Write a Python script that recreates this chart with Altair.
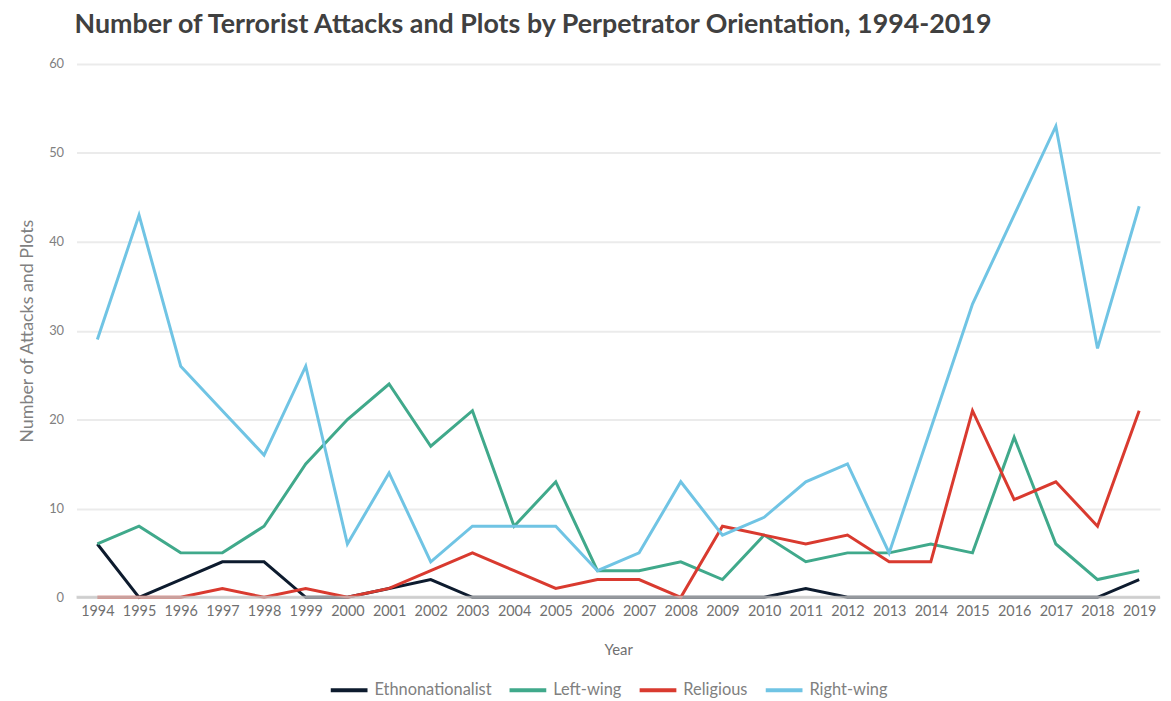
import altair as alt
import pandas as pd

years = ["1994","1995","1996","1997","1998","1999","2000","2001","2002","2003","2004","2005","2006",
         "2007","2008","2009","2010","2011","2012","2013","2014","2015","2016","2017","2018","2019"]
ethno = [6,0,2,4,4,0,0,1,2,0,0,0,0,0,0,0,0,1,0,0,0,0,0,0,0,2]
left = [6,8,5,5,8,15,20,24,17,21,8,13,3,3,4,2,7,4,5,5,6,5,18,6,2,3]
relig = [0,0,0,1,0,1,0,1,3,5,3,1,2,2,0,8,7,6,7,4,4,21,11,13,8,21]
right = [29,43,26,21,16,26,6,14,4,8,8,8,3,5,13,7,9,13,15,5,19,33,43,53,28,44]

series = ["Ethnonationalist", "Left-wing", "Religious", "Right-wing"]
colors = ["#0d1b2e", "#40a98b", "#d93a2f", "#70c4e4"]

rows = []
for name, vals in zip(series, [ethno, left, relig, right]):
    for y, v in zip(years, vals):
        rows.append({"Year": y, "Value": v, "Series": name})
df = pd.DataFrame(rows)

lines = alt.Chart(df).mark_line(strokeWidth=3).encode(
    x=alt.X("Year:O", sort=years,
            scale=alt.Scale(type="point", padding=0.5),
            axis=alt.Axis(title="Year", labelAngle=0, ticks=False, domain=False, grid=False,
                          labelFontSize=14.5, labelColor="#707070", labelPadding=7,
                          titleFontSize=15, titleFontWeight="normal", titleColor="#707070",
                          titlePadding=25, labelFont="Lato", titleFont="Lato")),
    y=alt.Y("Value:Q", scale=alt.Scale(domain=[0, 60]),
            axis=alt.Axis(title="Number of Attacks and Plots", values=[0,10,20,30,40,50,60],
                          ticks=False, domain=False, grid=True, gridColor="#ebebeb", gridWidth=2,
                          labelFontSize=13, labelColor="#808080", labelPadding=13,
                          titleFontSize=18, titleFontWeight="normal", titleColor="#808080",
                          titlePadding=12, labelFont="Lato", titleFont="Lato")),
    color=alt.Color("Series:N", sort=series,
                    scale=alt.Scale(domain=series, range=colors),
                    legend=alt.Legend(title=None, orient="none", direction="horizontal",
                                      legendX=254, legendY=610, symbolType="stroke",
                                      symbolStrokeWidth=4, symbolSize=1369,
                                      labelFontSize=16.5, labelColor="#808080", labelFont="Lato",
                                      columnPadding=10, labelOffset=5)),
    order=alt.Order("Year:O"),
)

zero = pd.DataFrame({"z": [0]})
base_rule = alt.Chart(zero).mark_rule(color="#c4c4c4", opacity=0.75, strokeWidth=3).encode(
    y=alt.Y("z:Q"))

chart = alt.layer(lines, base_rule).properties(
    width=1091, height=537,
    title=alt.TitleParams(
        "Number of Terrorist Attacks and Plots by Perpetrator Orientation, 1994-2019",
        anchor="start", frame="group", dx=-2, fontSize=27, font="Lato", fontWeight="bold",
        color="#404040", offset=19),
    padding={"left": 69, "top": 54, "right": 3, "bottom": 102},
    autosize=alt.AutoSizeParams(type="none"),
).configure_view(stroke=None)

chart.save("out.html", embed_options={"renderer": "svg", "actions": False})
